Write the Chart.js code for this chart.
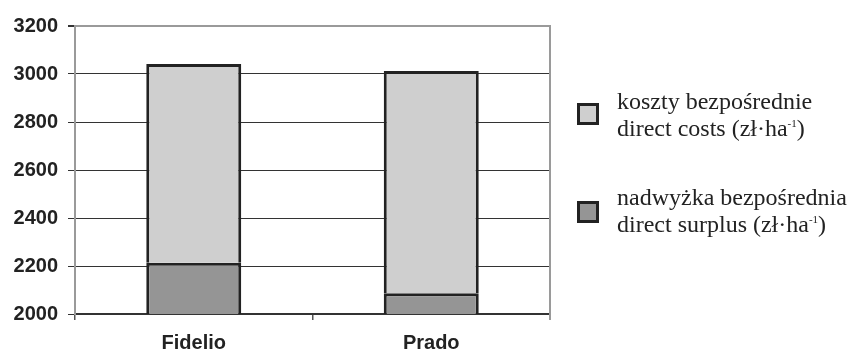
<!DOCTYPE html>
<html>
<head>
<meta charset="utf-8">
<script src="https://cdn.jsdelivr.net/npm/chart.js@4/dist/chart.umd.min.js"></script>
<style>
  html, body { margin: 0; padding: 0; background: #fff; }
  #wrap { position: relative; width: 848px; height: 353px; }
  #c { position: absolute; left: 0; top: 0; }
  .leg { position: absolute; left: 617px; font-family: "Liberation Serif", "Times New Roman", serif; font-size: 24px; line-height: 27px; color: #222; white-space: nowrap; }
  .leg sup { font-size: 11px; vertical-align: 9px; line-height: 0; }
  .box { position: absolute; left: 577px; width: 16px; height: 16px; border: 3px solid #222; }
</style>
</head>
<body>
<div id="wrap">
  <canvas id="c" width="848" height="353"></canvas>
  <div class="box" style="top:103px;background:#cfcfcf;"></div>
  <div class="leg" style="top:88px;">koszty bezpośrednie<br>direct costs (zł·ha<sup>-1</sup>)</div>
  <div class="box" style="top:201px;background:#959595;"></div>
  <div class="leg" style="top:184px;">nadwyżka bezpośrednia<br>direct surplus (zł·ha<sup>-1</sup>)</div>
</div>
<script>
const categories = ["Fidelio", "Prado"];
const directSurplus = [2214, 2086];
const directCosts = [828, 927];
const yTicks = [2000, 2200, 2400, 2600, 2800, 3000, 3200];

const rightBorder = {
  id: 'rightBorder',
  afterDraw(chart) {
    const a = chart.chartArea, ctx = chart.ctx;
    ctx.save();
    ctx.strokeStyle = '#9a9a9a';
    ctx.lineWidth = 2;
    ctx.beginPath();
    ctx.moveTo(a.right, a.top - 1);
    ctx.lineTo(a.right, a.bottom + 6);
    ctx.stroke();
    ctx.restore();
  }
};

new Chart(document.getElementById('c'), {
  type: 'bar',
  data: {
    labels: categories,
    datasets: [
      { label: 'nadwyżka bezpośrednia', data: directSurplus, backgroundColor: '#959595', borderColor: '#222', borderWidth: 3, borderSkipped: false, categoryPercentage: 1, barPercentage: 0.4 },
      { label: 'koszty bezpośrednie', data: directCosts, backgroundColor: '#cfcfcf', borderColor: '#222', borderWidth: 3, borderSkipped: 'start', categoryPercentage: 1, barPercentage: 0.4 }
    ]
  },
  options: {
    responsive: false,
    animation: false,
    layout: { padding: { left: 0, right: 298, top: 26, bottom: 0 } },
    plugins: { legend: { display: false }, tooltip: { enabled: false } },
    scales: {
      x: {
        stacked: true,
        grid: { offset: true, drawOnChartArea: false, tickLength: 6, tickColor: '#555', lineWidth: 1.5 },
        border: { color: '#333', width: 2 },
        ticks: { color: '#222', padding: 11, font: { family: 'Liberation Sans', size: 20, weight: 'bold' } },
        afterFit: (s) => { s.height = 39; }
      },
      y: {
        stacked: true,
        min: 2000, max: 3200,
        afterBuildTicks: (s) => { s.ticks = yTicks.map(v => ({ value: v })); },
        grid: {
          color: (c) => c.tick && c.tick.value === 3200 ? '#9a9a9a' : '#333',
          lineWidth: (c) => c.tick && c.tick.value === 3200 ? 2 : 1,
          tickLength: 7,
          tickColor: '#333'
        },
        border: { color: '#9a9a9a', width: 2 },
        ticks: { color: '#222', padding: 10, callback: (v) => String(v), font: { family: 'Liberation Sans', size: 20, weight: 'bold' } },
        afterFit: (s) => { s.width = 75; }
      }
    }
  },
  plugins: [rightBorder]
});
</script>
</body>
</html>
